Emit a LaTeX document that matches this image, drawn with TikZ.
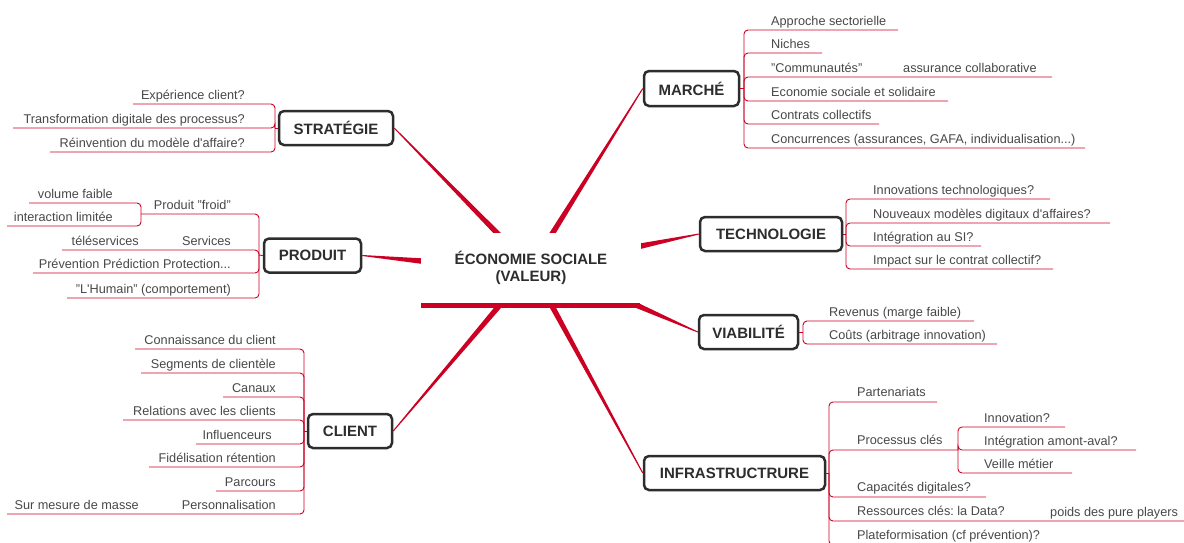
\documentclass[tikz,border=0pt]{standalone}
\usepackage{fontspec}
\setmainfont{Liberation Sans}
\usetikzlibrary{calc,backgrounds}
\definecolor{lred}{RGB}{204,0,34}
\definecolor{txt}{RGB}{72,72,72}
\definecolor{boxc}{RGB}{45,45,45}
\newcommand\spoke[2]{%
  \path (#2) coordinate (tmpB) ($(#2)!1.12!(#1)$) coordinate (tmpA);
  \fill[spk] ($(tmpA)!3pt!90:(tmpB)$) -- ($(tmpB)!0.5pt!-90:(tmpA)$) -- ($(tmpB)!0.5pt!90:(tmpA)$) -- ($(tmpA)!3pt!-90:(tmpB)$) -- cycle;}
\frenchspacing
\begin{document}
\begin{tikzpicture}[x=1pt,y=-1pt,
  item/.style={inner sep=0pt, text=txt, font=\fontsize{12.7}{14}\selectfont},
  itemR/.style={item, anchor=base west},
  itemL/.style={item, anchor=base east},
  mainbox/.style={draw=boxc, line width=2.5pt, rounded corners=5pt, fill=white, text=boxc,
    font=\fontsize{15}{17}\selectfont\bfseries, inner sep=0pt},
  sub/.style={draw=lred, line width=0.9pt, rounded corners=4pt},
  spk/.style={fill=lred},
]
\useasboundingbox (0,0) rectangle (1184,542);
\begin{pgfonlayer}{background}
\fill[white] (0,0) rectangle (1184,542);
\end{pgfonlayer}

% main topic boxes
\node[mainbox, minimum width=114pt, minimum height=34pt] (strat) at (336,128) {STRATÉGIE};
\node[mainbox, minimum width=97pt, minimum height=34pt] (produit) at (312.5,255.5) {PRODUIT};
\node[mainbox, minimum width=84pt, minimum height=34pt] (client) at (350,431) {CLIENT};
\node[mainbox, minimum width=95pt, minimum height=35pt] (marche) at (691.5,88.5) {MARCHÉ};
\node[mainbox, minimum width=142pt, minimum height=34pt] (tech) at (771,234) {TECHNOLOGIE};
\node[mainbox, minimum width=99pt, minimum height=34pt] (viab) at (748.5,332) {VIABILITÉ};
\node[mainbox, minimum width=181pt, minimum height=34pt] (infra) at (734.5,473) {INFRASTRUCTRURE};

% central topic
\node[fill=white, minimum width=220pt, minimum height=69.5pt, inner sep=0pt, align=center,
  text=boxc, font=\fontsize{15}{17}\selectfont\bfseries] (center) at (531,267.75)
  {ÉCONOMIE SOCIALE\\(VALEUR)};
\fill[lred] (center.south west) rectangle ++(219,5.6);

% spoke start points (edge of the central area)
\coordinate (sS) at (498,234);
\coordinate (sM) at (552,234);
\coordinate (sP) at (421,261);
\coordinate (sT) at (641,246);
\coordinate (sV) at (636,305);
\coordinate (sC) at (499,306);
\coordinate (sI) at (552,306);
\begin{pgfonlayer}{background}
\spoke{sS}{strat.east}
\spoke{sM}{marche.west}
\spoke{sP}{produit.east}
\spoke{sT}{tech.west}
\spoke{sV}{viab.west}
\spoke{sC}{client.east}
\spoke{sI}{infra.west}
\end{pgfonlayer}

% STRATEGIE
\coordinate (sb) at (275,128);
\draw[sub] (strat.west) -- (sb);
\foreach \i/\u/\e/\t in {1/104/133/{Expérience client?},2/128/13/{Transformation digitale des processus?},3/152/50/{Réinvention du modèle d\textquotesingle affaire?}}{
  \coordinate (se\i) at (\e,\u);
  \draw[sub] (sb) |- (se\i);
  \node[itemL] (s\i) at (245,\u-5) {\t};
}

% PRODUIT
\coordinate (pb) at (259,255);
\draw[sub] (produit.west) -- (pb);
\foreach \i/\u/\e/\t in {1/214/141/{Produit "froid"},2/250/62/{Services},3/273/33/{Prévention Prédiction Protection...},4/298/67/{"L\textquotesingle Humain" (comportement)}}{
  \coordinate (pe\i) at (\e,\u);
  \draw[sub] (pb) |- (pe\i);
  \node[itemL] (p\i) at (231,\u-5) {\t};
}
\foreach \i/\u/\e/\t in {1/203/29/{volume faible},2/226/7/{interaction limitée}}{
  \coordinate (pfe\i) at (\e,\u);
  \draw[sub] (pe1) |- (pfe\i);
  \node[itemL] (pf\i) at (113,\u-5) {\t};
}
\node[itemL] (ps1) at (139,245) {téléservices};

% CLIENT
\coordinate (cb) at (304,431);
\draw[sub] (client.west) -- (cb);
\foreach \i/\u/\e/\x/\t in {1/349/135/276/{Connaissance du client},2/373/141/276/{Segments de clientèle},3/397/223/276/{Canaux},4/420/123/276/{Relations avec les clients},5/444/196/272/{Influenceurs},6/467/149/276/{Fidélisation rétention},7/491/216/276/{Parcours},8/514/7/276/{Personnalisation}}{
  \coordinate (ce\i) at (\e,\u);
  \draw[sub] (cb) |- (ce\i);
  \node[itemL] (c\i) at (\x,\u-5) {\t};
}
\node[itemL] (cs1) at (139,509) {Sur mesure de masse};

% MARCHE
\coordinate (mb) at (744,88.5);
\draw[sub] (marche.east) -- (mb);
\foreach \i/\u/\e/\t in {1/30/898/{Approche sectorielle},2/53/822/{Niches},3/77/1052/{"Communautés"},4/101/948/{Economie sociale et solidaire},5/124/879/{Contrats collectifs},6/148/1085/{Concurrences (assurances, GAFA, individualisation...)}}{
  \coordinate (me\i) at (\e,\u);
  \draw[sub] (mb) |- (me\i);
  \node[itemR] (m\i) at (771,\u-5) {\t};
}
\node[itemR] (ms1) at (903,72) {assurance collaborative};

% TECHNOLOGIE
\coordinate (tb) at (846,234);
\draw[sub] (tech.east) -- (tb);
\foreach \i/\u/\e/\t in {1/199/1050/{Innovations technologiques?},2/223/1110/{Nouveaux modèles digitaux d\textquotesingle affaires?},3/246/981/{Intégration au SI?},4/269/1053/{Impact sur le contrat collectif?}}{
  \coordinate (te\i) at (\e,\u);
  \draw[sub] (tb) |- (te\i);
  \node[itemR] (t\i) at (873,\u-5) {\t};
}

% VIABILITE
\coordinate (vb) at (803,332);
\draw[sub] (viab.east) -- (vb);
\foreach \i/\u/\e/\t in {1/321/974/{Revenus (marge faible)},2/344/997/{Coûts (arbitrage innovation)}}{
  \coordinate (ve\i) at (\e,\u);
  \draw[sub] (vb) |- (ve\i);
  \node[itemR] (v\i) at (829,\u-5) {\t};
}

% INFRASTRUCTURE
\coordinate (ib) at (829,473);
\draw[sub] (infra.east) -- (ib);
\foreach \i/\u/\e/\t in {1/402/937/{Partenariats},2/450/958/{Processus clés},3/497/986/{Capacités digitales?},4/521/1190/{Ressources clés: la Data?},5/545/1100/{Plateformisation (cf prévention)?}}{
  \coordinate (ie\i) at (\e,\u);
  \draw[sub] (ib) |- (ie\i);
  \node[itemR] (in\i) at (857,\u-6) {\t};
}
\node[itemR] (is1) at (1050,516) {poids des pure players};
\foreach \i/\u/\e/\t in {1/427/1065/{Innovation?},2/450/1136/{Intégration amont-aval?},3/473/1072/{Veille métier}}{
  \coordinate (ipe\i) at (\e,\u);
  \draw[sub] (ie2) |- (ipe\i);
  \node[itemR] (ip\i) at (984,\u-5) {\t};
}
\end{tikzpicture}
\end{document}
